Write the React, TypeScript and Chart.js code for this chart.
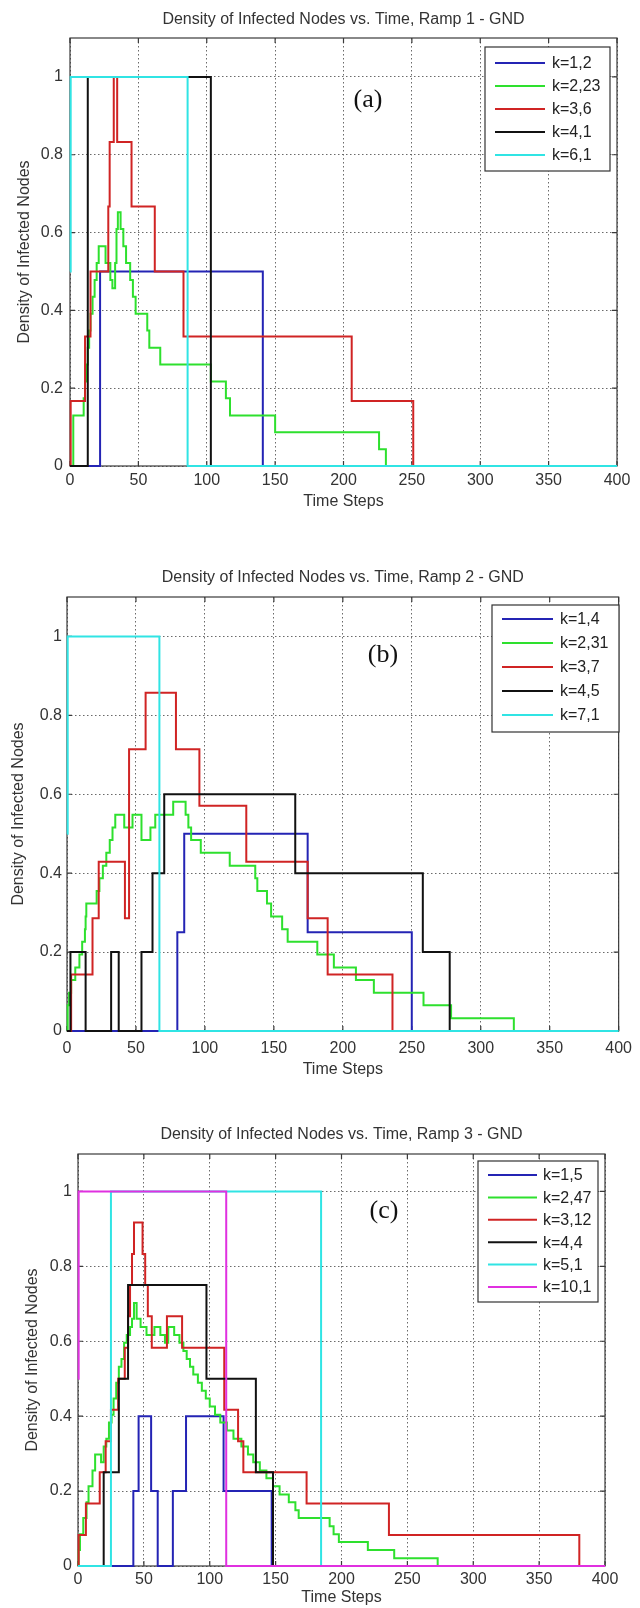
import React, { useEffect, useRef } from "react";
import { Chart, registerables } from "chart.js";

Chart.register(...registerables);

type Pt = [number, number];

const FONT = "'Liberation Sans', Arial, Helvetica, sans-serif";
const SERIF = "'Liberation Serif', 'Times New Roman', serif";

const xTickValues = [0, 50, 100, 150, 200, 250, 300, 350, 400];
const yTickValues = [0, 0.2, 0.4, 0.6, 0.8, 1];
const xAxisTitle = "Time Steps";
const yAxisTitle = "Density of Infected Nodes";

// ---------- Ramp 1 ----------
const ramp1Title = "Density of Infected Nodes vs. Time, Ramp 1 - GND";
const ramp1Tag = "(a)";
const ramp1Labels = ["k=1,2", "k=2,23", "k=3,6", "k=4,1", "k=6,1"];
const ramp1_k1: Pt[] = [[0, 0], [22, 0.5], [141, 0], [400, 0]];
const ramp1_k2: Pt[] = [
  [0, 0], [2.4, 0.13], [10, 0.174], [11, 0.217], [12, 0.261], [13, 0.304], [14, 0.348],
  [15, 0.391], [16.5, 0.435], [18, 0.478], [19.5, 0.522], [21, 0.565], [26, 0.522],
  [29.5, 0.478], [31, 0.457], [33, 0.522], [34, 0.609], [35, 0.652], [37, 0.609],
  [39, 0.565], [41, 0.522], [44, 0.478], [46, 0.435], [48, 0.391], [56.5, 0.348],
  [58, 0.304], [66, 0.261], [103, 0.217], [114, 0.174], [117, 0.13], [150, 0.087],
  [226, 0.043], [231, 0], [400, 0],
];
const ramp1_k3: Pt[] = [
  [0, 0], [0.5, 0.167], [11, 0.333], [15, 0.5], [28, 0.667], [29, 0.833], [32, 1],
  [34.5, 0.833], [45, 0.667], [62, 0.5], [83, 0.333], [206, 0.167], [251, 0], [400, 0],
];
const ramp1_k4: Pt[] = [[0, 0], [13, 1], [103, 0], [400, 0]];
const ramp1_k6: Pt[] = [[0, 0.5], [0.5, 1], [86, 0], [400, 0]];

// ---------- Ramp 2 ----------
const ramp2Title = "Density of Infected Nodes vs. Time, Ramp 2 - GND";
const ramp2Tag = "(b)";
const ramp2Labels = ["k=1,4", "k=2,31", "k=3,7", "k=4,5", "k=7,1"];
const ramp2_k1: Pt[] = [[0, 0], [80, 0.25], [85, 0.5], [174.5, 0.25], [250, 0], [400, 0]];
const ramp2_k2: Pt[] = [
  [0, 0], [0.5, 0.065], [1.5, 0.097], [3, 0.129], [6, 0.161], [9, 0.194], [11, 0.226],
  [13, 0.258], [13.5, 0.29], [14, 0.323], [21.5, 0.355], [23.5, 0.387], [26, 0.419],
  [28.5, 0.452], [31, 0.484], [33, 0.516], [35, 0.548], [41.5, 0.516], [47.5, 0.548],
  [54, 0.484], [60.5, 0.516], [64, 0.548], [77, 0.581], [86, 0.548], [88, 0.516],
  [90, 0.484], [97, 0.452], [118, 0.419], [136.5, 0.387], [138, 0.355], [145, 0.323],
  [148, 0.29], [156, 0.258], [160, 0.226], [181.5, 0.194], [193.5, 0.161], [209.5, 0.129],
  [222.5, 0.097], [258.5, 0.065], [278.5, 0.032], [324, 0], [400, 0],
];
const ramp2_k3: Pt[] = [
  [0, 0], [3, 0.143], [18.5, 0.286], [23, 0.429], [42, 0.286], [45, 0.714], [57, 0.857],
  [79, 0.714], [96, 0.571], [130, 0.429], [174.5, 0.286], [189, 0.143], [236, 0], [400, 0],
];
const ramp2_k4: Pt[] = [
  [0, 0], [2.5, 0.2], [13.5, 0], [32, 0.2], [37.5, 0], [54, 0.2], [62, 0.4], [70.5, 0.6],
  [165.5, 0.4], [258, 0.2], [277.5, 0], [400, 0],
];
const ramp2_k7: Pt[] = [[0, 0.5], [0.5, 1], [67, 0], [400, 0]];

// ---------- Ramp 3 ----------
const ramp3Title = "Density of Infected Nodes vs. Time, Ramp 3 - GND";
const ramp3Tag = "(c)";
const ramp3Labels = ["k=1,5", "k=2,47", "k=3,12", "k=4,4", "k=5,1", "k=10,1"];
const ramp3_k1: Pt[] = [
  [0, 0], [42, 0.2], [46, 0.4], [55.5, 0.2], [60.5, 0], [72, 0.2], [82, 0.4], [110.5, 0.2],
  [147, 0], [400, 0],
];
const ramp3_k2: Pt[] = [
  [0, 0], [0.5, 0.043], [1.5, 0.085], [4, 0.128], [6.5, 0.17], [8, 0.213], [11, 0.255],
  [13, 0.298], [17.5, 0.277], [19.5, 0.319], [21.5, 0.34], [23.5, 0.383], [25.5, 0.404],
  [27, 0.447], [29, 0.489], [31, 0.532], [33, 0.553], [35, 0.596], [37, 0.617], [39.5, 0.638],
  [41, 0.66], [42.5, 0.702], [44.5, 0.66], [47.5, 0.638], [52, 0.617], [58, 0.638],
  [62.5, 0.617], [66, 0.596], [68.5, 0.638], [73, 0.617], [77, 0.596], [80, 0.574],
  [82.5, 0.553], [85, 0.532], [87.5, 0.511], [91, 0.489], [94, 0.468], [97, 0.447],
  [100, 0.426], [104, 0.404], [108, 0.383], [113, 0.362], [118, 0.34], [124, 0.319],
  [129, 0.298], [133, 0.277], [138, 0.255], [143, 0.234], [148, 0.213], [153, 0.191],
  [160, 0.17], [165, 0.149], [167.5, 0.128], [191, 0.106], [194, 0.085], [198, 0.064],
  [220, 0.043], [240, 0.021], [273, 0], [400, 0],
];
const ramp3_k3: Pt[] = [
  [0, 0], [0.5, 0.083], [6, 0.167], [16.5, 0.25], [21, 0.333], [25, 0.417], [30.5, 0.5],
  [35.5, 0.583], [38, 0.667], [39.5, 0.75], [41, 0.833], [42.5, 0.917], [49, 0.833],
  [51, 0.75], [53, 0.667], [56, 0.583], [67.5, 0.667], [79, 0.583], [111, 0.417],
  [121.5, 0.333], [125.5, 0.25], [173.5, 0.167], [236, 0.083], [380.5, 0], [400, 0],
];
const ramp3_k4: Pt[] = [
  [0, 0], [19.5, 0.25], [31, 0.5], [38, 0.75], [97.5, 0.5], [135, 0.25], [148, 0], [400, 0],
];
const ramp3_k5: Pt[] = [[0, 0], [25, 1], [184.5, 0], [400, 0]];
const ramp3_k10: Pt[] = [[0, 0.5], [0.5, 1], [112.5, 0], [400, 0]];

const BLUE = "#2424b4";
const GREEN = "#2ee02e";
const RED = "#d02424";
const BLACK = "#111111";
const CYAN = "#30e4e4";
const MAGENTA = "#e030e0";

interface LegendGeom {
  right: number; top: number; w: number; h: number;
  row0: number; rowH: number; lx0: number; lx1: number; tx: number;
}
interface PanelCfg {
  top: number; height: number; title: string; tag: string;
  labels: string[]; colors: string[]; series: Pt[][];
  titlePad: { top: number; bottom: number };
  yAxisWidth: number; yTitlePad: number; yTickPad: number;
  rightPad: number; xAxisHeight: number; xTitlePadBottom: number; xTickPad: number;
  legend: LegendGeom; tagPos: { x: number; y: number };
}

const panels: PanelCfg[] = [
  {
    top: 0, height: 530, title: ramp1Title, tag: ramp1Tag, labels: ramp1Labels,
    colors: [BLUE, GREEN, RED, BLACK, CYAN],
    series: [ramp1_k1, ramp1_k2, ramp1_k3, ramp1_k4, ramp1_k6],
    titlePad: { top: 10.4, bottom: 8.4 }, yAxisWidth: 70, yTitlePad: 15, yTickPad: 7,
    rightPad: 23, xAxisHeight: 64, xTitlePadBottom: 18.4, xTickPad: 5,
    legend: { right: 610, top: 47, w: 125, h: 124, row0: 63, rowH: 23, lx0: 495, lx1: 545, tx: 552 },
    tagPos: { x: 368, y: 100 },
  },
  {
    top: 560, height: 527, title: ramp2Title, tag: ramp2Tag, labels: ramp2Labels,
    colors: [BLUE, GREEN, RED, BLACK, CYAN],
    series: [ramp2_k1, ramp2_k2, ramp2_k3, ramp2_k4, ramp2_k7],
    titlePad: { top: 8.4, bottom: 9.4 }, yAxisWidth: 67, yTitlePad: 9.4, yTickPad: 5,
    rightPad: 13, xAxisHeight: 56, xTitlePadBottom: 7.4, xTickPad: 8,
    legend: { right: 619, top: 45, w: 127, h: 127, row0: 59, rowH: 24, lx0: 502, lx1: 553, tx: 560 },
    tagPos: { x: 383, y: 95 },
  },
  {
    top: 1087, height: 521, title: ramp3Title, tag: ramp3Tag, labels: ramp3Labels,
    colors: [BLUE, GREEN, RED, BLACK, CYAN, MAGENTA],
    series: [ramp3_k1, ramp3_k2, ramp3_k3, ramp3_k4, ramp3_k5, ramp3_k10],
    titlePad: { top: 38.4, bottom: 9.4 }, yAxisWidth: 78, yTitlePad: 23.4, yTickPad: 6,
    rightPad: 35, xAxisHeight: 42, xTitlePadBottom: 0.4, xTickPad: 4,
    legend: { right: 598, top: 74, w: 120, h: 141, row0: 88, rowH: 22.4, lx0: 488, lx1: 537, tx: 543 },
    tagPos: { x: 384, y: 124 },
  },
];

function Panel({ cfg }: { cfg: PanelCfg }) {
  const ref = useRef<HTMLCanvasElement | null>(null);
  useEffect(() => {
    const canvas = ref.current;
    if (!canvas) return;
    const framePlugin = {
      id: "matlabFrame",
      beforeDatasetsDraw(chart: any) {
        const { ctx, chartArea: a, scales } = chart;
        ctx.save();
        ctx.strokeStyle = "#3a3a3a";
        ctx.lineWidth = 1.2;
        ctx.strokeRect(a.left, a.top, a.right - a.left, a.bottom - a.top);
        ctx.beginPath();
        for (const v of xTickValues) {
          const px = scales.x.getPixelForValue(v);
          ctx.moveTo(px, a.bottom); ctx.lineTo(px, a.bottom - 5);
          ctx.moveTo(px, a.top); ctx.lineTo(px, a.top + 5);
        }
        for (const v of yTickValues) {
          const py = scales.y.getPixelForValue(v);
          ctx.moveTo(a.left, py); ctx.lineTo(a.left + 5, py);
          ctx.moveTo(a.right, py); ctx.lineTo(a.right - 5, py);
        }
        ctx.stroke();
        ctx.restore();
      },
      afterDatasetsDraw(chart: any) {
        const { ctx } = chart;
        const L = cfg.legend;
        ctx.save();
        ctx.fillStyle = "#ffffff";
        ctx.fillRect(L.right - L.w, L.top, L.w, L.h);
        ctx.strokeStyle = "#333333";
        ctx.lineWidth = 1.2;
        ctx.strokeRect(L.right - L.w, L.top, L.w, L.h);
        ctx.font = `16px ${FONT}`;
        ctx.textBaseline = "middle";
        ctx.textAlign = "left";
        chart.data.datasets.forEach((ds: any, i: number) => {
          const y = L.row0 + i * L.rowH;
          ctx.strokeStyle = ds.borderColor;
          ctx.lineWidth = 2;
          ctx.beginPath();
          ctx.moveTo(L.lx0, y); ctx.lineTo(L.lx1, y);
          ctx.stroke();
          ctx.fillStyle = "#222222";
          ctx.fillText(ds.label, L.tx, y + 1);
        });
        ctx.font = `26px ${SERIF}`;
        ctx.textAlign = "center";
        ctx.fillStyle = "#111111";
        ctx.fillText(cfg.tag, cfg.tagPos.x, cfg.tagPos.y);
        ctx.restore();
      },
    };

    const chart = new Chart(canvas, {
      type: "line",
      data: {
        datasets: cfg.series.map((pts, i) => ({
          label: cfg.labels[i],
          data: pts.map(([x, y]) => ({ x, y })),
          borderColor: cfg.colors[i],
          backgroundColor: cfg.colors[i],
          borderWidth: 2,
          pointRadius: 0,
          pointHoverRadius: 0,
          stepped: "before" as const,
          fill: false,
          clip: false as any,
          order: -i,
        })),
      },
      options: {
        animation: false,
        responsive: false,
        events: [],
        layout: { padding: { left: 0, right: cfg.rightPad, top: 0, bottom: 0 } },
        plugins: {
          legend: { display: false },
          tooltip: { enabled: false },
          title: {
            display: true,
            text: cfg.title,
            fullSize: false,
            color: "#333333",
            font: { family: FONT, size: 16, weight: "normal" as const },
            padding: cfg.titlePad,
          },
        },
        scales: {
          x: {
            type: "linear",
            min: 0,
            max: 400,
            afterBuildTicks: (s: any) => { s.ticks = xTickValues.map((v) => ({ value: v })); },
            afterFit: (s: any) => { s.height = cfg.xAxisHeight; },
            ticks: {
              autoSkip: false, maxRotation: 0, minRotation: 0, padding: cfg.xTickPad,
              color: "#333333", font: { family: FONT, size: 16 },
              callback: (v: any) => String(v),
            },
            grid: { color: "#6a6a6a", lineWidth: 1, drawTicks: false },
            border: { display: false, dash: [1.5, 2.5] },
            title: {
              display: true, text: xAxisTitle, color: "#333333",
              font: { family: FONT, size: 16 },
              padding: { top: 0, bottom: cfg.xTitlePadBottom },
            },
          },
          y: {
            type: "linear",
            min: 0,
            max: 1.1,
            afterBuildTicks: (s: any) => { s.ticks = yTickValues.map((v) => ({ value: v })); },
            afterFit: (s: any) => { s.width = cfg.yAxisWidth; },
            ticks: {
              padding: cfg.yTickPad, color: "#333333", font: { family: FONT, size: 16 },
              callback: (v: any) => String(Math.round(Number(v) * 10) / 10),
            },
            grid: { color: "#6a6a6a", lineWidth: 1, drawTicks: false },
            border: { display: false, dash: [1.5, 2.5] },
            title: {
              display: true, text: yAxisTitle, color: "#333333",
              font: { family: FONT, size: 16 },
              padding: { top: cfg.yTitlePad, bottom: 0 },
            },
          },
        },
      },
      plugins: [framePlugin],
    } as any);
    return () => chart.destroy();
  }, [cfg]);

  return (
    <canvas
      ref={ref}
      width={640}
      height={cfg.height}
      style={{ position: "absolute", left: 0, top: cfg.top, width: 640, height: cfg.height }}
    />
  );
}

export default function App() {
  return (
    <div style={{ position: "absolute", left: 0, top: 0, width: 640, height: 1608, background: "#ffffff" }}>
      {panels.map((p, i) => (
        <Panel key={i} cfg={p} />
      ))}
    </div>
  );
}
